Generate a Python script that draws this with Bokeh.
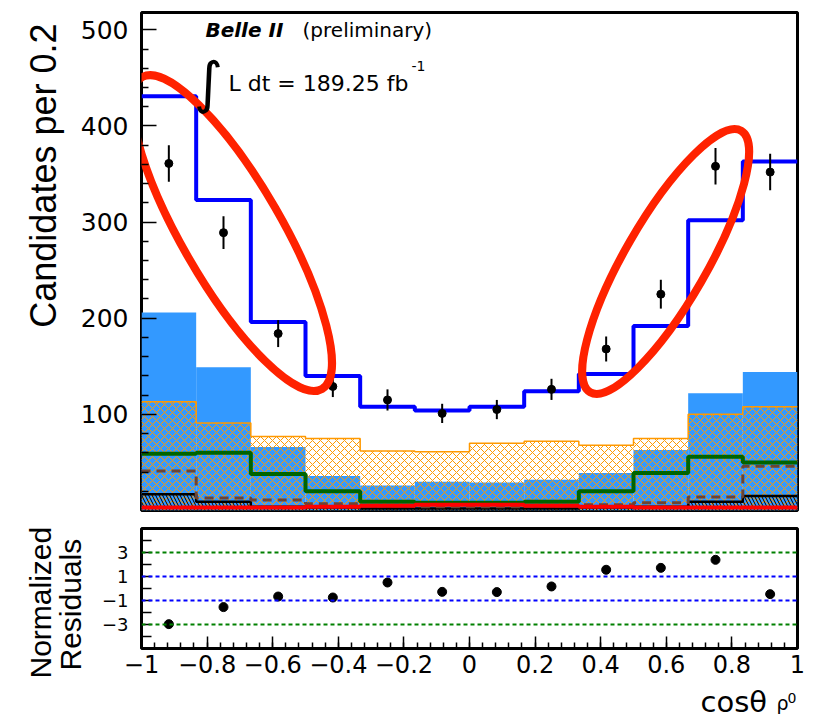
import numpy as np
from math import pi
from bokeh.plotting import figure
from bokeh.models import Label, Span, FixedTicker, Range1d, Title
from bokeh.layouts import column
from bokeh.embed import file_html
from bokeh.resources import INLINE

# ---------------- data ----------------
bin_edges = [-1.0, -0.8333, -0.6667, -0.5, -0.3333, -0.1667, 0.0,
             0.1667, 0.3333, 0.5, 0.6667, 0.8333, 1.0]
data_counts = [361, 289, 184, 129, 115, 101, 105, 126, 168, 225, 358, 352]
data_errors = [19, 17, 14, 11, 11, 10, 10, 11, 13, 15, 19, 19]
total_fit = [431, 323, 196, 140, 108, 104, 108, 124, 142, 192, 302, 363]
bkg_blue = [206, 149, 66, 36, 26, 30, 29, 32, 39, 63, 122, 144]
bkg_orange = [113, 91, 77, 75, 62, 61, 70, 72, 68, 75, 100, 108]
comp_green = [59, 60, 38, 20, 9, 8, 8, 9, 20, 39, 56, 50]
comp_brown = [41, 13, 11, 7, 5, 4, 4, 5, 6, 8, 14, 46]
comp_black = [17, 9, 4, 3, 2, 2, 2, 2, 3, 4, 9, 15]
comp_red = [3, 3, 3, 4, 5, 6, 6, 5, 4, 3, 3, 3]
residuals = [-2.97, -1.55, -0.67, -0.75, 0.5, -0.28, -0.3, 0.17, 1.56, 1.72, 2.39, -0.47]

main_yticks = [100, 200, 300, 400, 500]
resid_yticks = [-4, -3, -2, -1, 0, 1, 2, 3, 4]
resid_ylabels = {3: "3", 1: "1", -1: "\u22121", -3: "\u22123"}
xticks = [-1, -0.8, -0.6, -0.4, -0.2, 0, 0.2, 0.4, 0.6, 0.8, 1]
xtick_labels = ["\u22121", "\u22120.8", "\u22120.6", "\u22120.4", "\u22120.2", "0",
                "0.2", "0.4", "0.6", "0.8", "1"]
green_lines = [3, -3]
blue_lines = [1, -1]

# highlight ellipses (annotation): centre x, centre y, width px, height px, angle deg
ellipse_x = [-0.724, 0.598]
ellipse_y = [288.6, 259.0]
ellipse_w = [360, 302]
ellipse_h = [100, 82]
ellipse_angle = [-60, 60]

FONT = "DejaVu Sans"
TFONT = "Liberation Sans"

lo = bin_edges[:-1]
hi = bin_edges[1:]
centers = [(a + b) / 2 for a, b in zip(lo, hi)]


def step_y(vals):
    return list(vals) + [vals[-1]]


def plain(fig):
    fig.grid.visible = False
    fig.background_fill_color = "white"
    fig.border_fill_color = "white"


# ---------------- main panel ----------------
p1 = figure(width=831, height=515, x_range=Range1d(-1, 1), y_range=Range1d(0, 518),
            output_backend="svg", toolbar_location=None,
            min_border_left=141, min_border_right=34, min_border_top=12, min_border_bottom=5)
plain(p1)
p1.outline_line_color = "black"
p1.outline_line_width = 3
p1.xaxis.visible = False

yax = p1.yaxis[0]
yax.ticker = FixedTicker(ticks=main_yticks,
                         minor_ticks=[v for v in range(20, 520, 20) if v % 100 != 0])
yax.axis_line_color = None
yax.major_tick_in = 15
yax.major_tick_out = 0
yax.minor_tick_in = 7
yax.minor_tick_out = 0
yax.major_tick_line_width = 1.5
yax.minor_tick_line_width = 1.5
yax.major_label_standoff = 13
yax.major_label_text_font = FONT
yax.major_label_text_font_size = "25px"
yax.major_label_text_color = "black"

p1.add_layout(Title(text="Candidates per 0.2", align="right", offset=11, standoff=28,
                    text_font=TFONT, text_font_size="36px", text_font_style="normal",
                    text_color="black"), "left")

# blue filled background
p1.quad(left=lo, right=hi, bottom=0, top=bkg_blue, fill_color="#3399ff",
        line_color=None)
# orange hatched background
p1.quad(left=lo, right=hi, bottom=0, top=bkg_orange, fill_color=None, line_color=None,
        hatch_pattern="x", hatch_color="#ff9900", hatch_scale=8, hatch_weight=1)
p1.step(x=bin_edges, y=step_y(bkg_orange), mode="after", line_color="#ff9900",
        line_width=1.5)
# black hatched component
p1.quad(left=lo, right=hi, bottom=0, top=comp_black, fill_color=None, line_color=None,
        hatch_pattern="\\", hatch_color="black", hatch_scale=7, hatch_weight=1)
p1.step(x=bin_edges, y=step_y(comp_black), mode="after", line_color="black",
        line_width=2.5)
# lines
p1.step(x=bin_edges, y=step_y(comp_brown), mode="after", line_color="#6b4436",
        line_width=3, line_dash="9 6")
p1.step(x=bin_edges, y=step_y(comp_green), mode="after", line_color="#006400",
        line_width=4)
p1.step(x=bin_edges, y=step_y(comp_red), mode="after", line_color="#ff0000",
        line_width=4)
p1.step(x=bin_edges, y=step_y(total_fit), mode="after", line_color="#0000ff",
        line_width=4)

# data points
p1.segment(x0=centers, x1=centers,
           y0=[c - e for c, e in zip(data_counts, data_errors)],
           y1=[c + e for c, e in zip(data_counts, data_errors)],
           line_color="black", line_width=2)
p1.scatter(x=centers, y=data_counts, size=8, color="black", marker="circle")

# highlight ellipses
p1.ellipse(x=ellipse_x, y=ellipse_y, width=ellipse_w, height=ellipse_h,
           angle=[a * pi / 180 for a in ellipse_angle],
           width_units="screen", height_units="screen",
           fill_color=None, line_color="#ff2200", line_width=8)

# texts
p1.add_layout(Label(x=-0.805, y=500.0, text="Belle II", text_font=FONT,
                    text_font_size="20px", text_font_style="bold italic",
                    text_baseline="alphabetic", text_align="left", text_color="black"))
p1.add_layout(Label(x=-0.509, y=500.0, text="(preliminary)", text_font=FONT,
                    text_font_size="20px", text_baseline="alphabetic",
                    text_align="left", text_color="black"))
p1.add_layout(Label(x=-0.796, y=445.0, text="\u222b", text_font=FONT,
                    text_font_size="56px", text_baseline="middle",
                    text_align="center", text_color="black"))
p1.add_layout(Label(x=-0.735, y=444.4, text="L dt = 189.25 fb", text_font=FONT,
                    text_font_size="22px", text_baseline="alphabetic",
                    text_align="left", text_color="black"))
p1.add_layout(Label(x=-0.177, y=462.5, text="-1", text_font=FONT,
                    text_font_size="14px", text_baseline="alphabetic",
                    text_align="left", text_color="black"))

# ---------------- residual panel ----------------
p2 = figure(width=831, height=171, x_range=Range1d(-1, 1), y_range=Range1d(-5, 5),
            output_backend="svg", toolbar_location=None,
            min_border_left=141, min_border_right=34, min_border_top=13, min_border_bottom=38)
plain(p2)
p2.outline_line_color = "black"
p2.outline_line_width = 3

ry = p2.yaxis[0]
ry.ticker = FixedTicker(ticks=resid_yticks)
ry.major_label_overrides = {v: resid_ylabels.get(v, "") for v in resid_yticks}
ry.axis_line_color = None
ry.major_tick_in = 10
ry.major_tick_out = 0
ry.minor_tick_in = 0
ry.minor_tick_out = 0
ry.major_tick_line_width = 1.5
ry.major_label_standoff = 13
ry.major_label_text_font = FONT
ry.major_label_text_font_size = "18px"
ry.major_label_text_color = "black"

rx = p2.xaxis[0]
rx.ticker = FixedTicker(ticks=xticks,
                        minor_ticks=[round(-1 + 0.04 * i, 2) for i in range(51)])
rx.major_label_overrides = {t: l for t, l in zip(xticks, xtick_labels)}
rx.axis_line_color = None
rx.major_tick_in = 12
rx.major_tick_out = 0
rx.minor_tick_in = 6
rx.minor_tick_out = 0
rx.major_tick_line_width = 1.5
rx.minor_tick_line_width = 1.5
rx.major_label_standoff = 6
rx.major_label_text_font = FONT
rx.major_label_text_font_size = "24px"
rx.major_label_text_color = "black"

p2.add_layout(Title(text="Residuals", align="left", offset=-22, standoff=24,
                    text_font=TFONT, text_font_size="30px", text_font_style="normal",
                    text_color="black"), "left")
p2.add_layout(Title(text="Normalized", align="left", offset=-30, standoff=-34,
                    text_font=TFONT, text_font_size="30px", text_font_style="normal",
                    text_color="black"), "left")

for v in green_lines:
    p2.add_layout(Span(location=v, dimension="width", line_color="#008000",
                       line_dash="4 3", line_width=2))
for v in blue_lines:
    p2.add_layout(Span(location=v, dimension="width", line_color="#0000ff",
                       line_dash="4 3", line_width=2))

p2.scatter(x=centers, y=residuals, size=9, color="black", marker="circle")

# ---------------- x-axis title strip (frame aligned with the panels above) ----------------
p3 = figure(width=831, height=41, x_range=Range1d(141, 797), y_range=Range1d(0, 41),
            output_backend="svg", toolbar_location=None,
            min_border_left=141, min_border_right=34, min_border_top=0, min_border_bottom=0)
plain(p3)
p3.outline_line_color = None
p3.axis.visible = False

p3.add_layout(Label(x=700, y=26, text="cos\u03b8", text_font=FONT,
                    text_font_size="29px", text_baseline="alphabetic",
                    text_align="left", text_color="black"))
p3.add_layout(Label(x=776, y=24.5, text="\u03c1", text_font=FONT,
                    text_font_size="19px", text_baseline="alphabetic",
                    text_align="left", text_color="black"))
p3.add_layout(Label(x=787, y=30, text="0", text_font=FONT,
                    text_font_size="14px", text_baseline="alphabetic",
                    text_align="left", text_color="black"))

layout = column(p1, p2, p3)
open("out.html", "w").write(file_html(layout, INLINE))
